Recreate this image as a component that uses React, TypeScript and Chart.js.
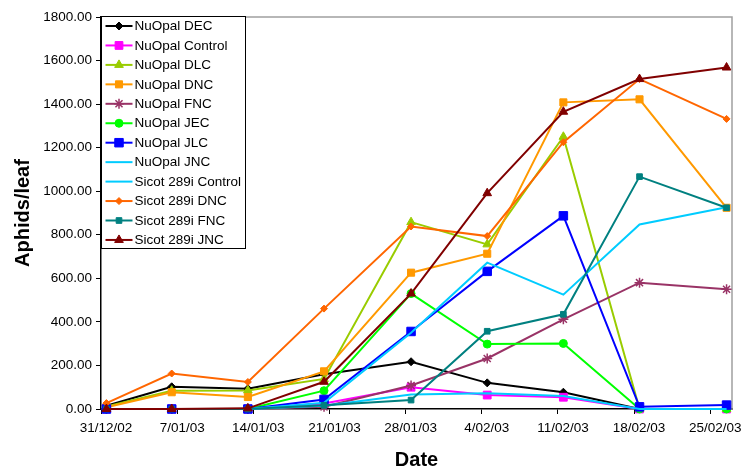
import React, { useEffect, useRef } from 'react';
import { Chart, registerables } from 'chart.js';

Chart.register(...registerables);

// Sampling dates (d/mm/yy) and weekly axis tick labels
const sampleDates = ['31/12/02', '6/01/03', '13/01/03', '20/01/03', '28/01/03', '4/02/03', '11/02/03', '18/02/03', '26/02/03'];
const tickLabels = ['31/12/02', '7/01/03', '14/01/03', '21/01/03', '28/01/03', '4/02/03', '11/02/03', '18/02/03', '25/02/03'];
const yTicks = [0, 200, 400, 600, 800, 1000, 1200, 1400, 1600, 1800];

// Aphids per leaf for each treatment, one value per sampling date
const nuOpalDEC = [15, 102, 93, 160, 217, 120, 77, 0, 0];
const nuOpalControl = [0, 0, 0, 25, 100, 64, 54, 0, 0];
const nuOpalDLC = [12, 84, 85, 138, 858, 756, 1250, 0, 0];
const nuOpalDNC = [8, 77, 55, 173, 626, 713, 1408, 1422, 924];
const nuOpalFNC = [0, 0, 0, 10, 108, 232, 412, 580, 550];
const nuOpalJEC = [0, 0, 0, 84, 530, 298, 301, 0, 0];
const nuOpalJLC = [0, 0, 0, 44, 356, 632, 887, 10, 18];
const nuOpalJNC = [0, 0, 0, 29, 350, 672, 525, 847, 926];
const sicotControl = [0, 0, 0, 15, 67, 72, 60, 0, 0];
const sicotDNC = [27, 163, 124, 461, 838, 794, 1225, 1515, 1332];
const sicotFNC = [0, 0, 0, 17, 41, 357, 435, 1067, 924];
const sicotJNC = [0, 0, 3, 125, 530, 991, 1365, 1515, 1568];

const FONT = "'Liberation Sans', Arial, Helvetica, sans-serif";
const AXIS_DAYS = 58;

function dayNumber(label: string): number {
  const [d, m, y] = label.split('/').map(Number);
  return Date.UTC(2000 + y, m - 1, d) / 86400000;
}
const origin = dayNumber(tickLabels[0]);
// ticks sit on day boundaries, samples in the middle of their day
const tickDays = tickLabels.map((t) => dayNumber(t) - origin);
const sampleDays = sampleDates.map((t) => dayNumber(t) - origin + 0.5);

type Marker = 'circle' | 'rect' | 'rectRot' | 'triangle' | 'star' | false;
interface Series {
  label: string;
  values: number[];
  color: string;
  marker: Marker;
  radius: number;
}

const series: Series[] = [
  { label: 'NuOpal DEC', values: nuOpalDEC, color: '#000000', marker: 'rectRot', radius: 4 },
  { label: 'NuOpal Control', values: nuOpalControl, color: '#FF00FF', marker: 'rect', radius: 5.5 },
  { label: 'NuOpal DLC', values: nuOpalDLC, color: '#99CC00', marker: 'triangle', radius: 5 },
  { label: 'NuOpal DNC', values: nuOpalDNC, color: '#FF9900', marker: 'rect', radius: 5 },
  { label: 'NuOpal FNC', values: nuOpalFNC, color: '#993366', marker: 'star', radius: 5 },
  { label: 'NuOpal JEC', values: nuOpalJEC, color: '#00FF00', marker: 'circle', radius: 4 },
  { label: 'NuOpal JLC', values: nuOpalJLC, color: '#0000FF', marker: 'rect', radius: 6 },
  { label: 'NuOpal JNC', values: nuOpalJNC, color: '#00CCFF', marker: false, radius: 0 },
  { label: 'Sicot 289i Control', values: sicotControl, color: '#00CCFF', marker: false, radius: 0 },
  { label: 'Sicot 289i DNC', values: sicotDNC, color: '#FF6600', marker: 'rectRot', radius: 3.5 },
  { label: 'Sicot 289i FNC', values: sicotFNC, color: '#008080', marker: 'rect', radius: 4 },
  { label: 'Sicot 289i JNC', values: sicotJNC, color: '#800000', marker: 'triangle', radius: 5 },
];

function drawMarker(ctx: CanvasRenderingContext2D, m: Marker, x: number, y: number, r: number, color: string) {
  if (!m) return;
  ctx.save();
  ctx.fillStyle = color;
  ctx.strokeStyle = color;
  ctx.lineWidth = 1;
  ctx.beginPath();
  if (m === 'circle') {
    ctx.arc(x, y, r, 0, Math.PI * 2);
  } else if (m === 'rect') {
    const s = Math.SQRT1_2 * r;
    ctx.rect(x - s, y - s, 2 * s, 2 * s);
  } else if (m === 'rectRot') {
    ctx.moveTo(x - r, y);
    ctx.lineTo(x, y - r);
    ctx.lineTo(x + r, y);
    ctx.lineTo(x, y + r);
    ctx.closePath();
  } else if (m === 'triangle') {
    let a = 0;
    ctx.moveTo(x + Math.sin(a) * r, y - Math.cos(a) * r);
    a += (2 * Math.PI) / 3;
    ctx.lineTo(x + Math.sin(a) * r, y - Math.cos(a) * r);
    a += (2 * Math.PI) / 3;
    ctx.lineTo(x + Math.sin(a) * r, y - Math.cos(a) * r);
    ctx.closePath();
  } else if (m === 'star') {
    ctx.lineWidth = 1.5;
    for (let k = 0; k < 4; k++) {
      const a = (k * Math.PI) / 4;
      ctx.moveTo(x - Math.cos(a) * r, y - Math.sin(a) * r);
      ctx.lineTo(x + Math.cos(a) * r, y + Math.sin(a) * r);
    }
    ctx.stroke();
    ctx.restore();
    return;
  }
  ctx.fill();
  ctx.stroke();
  ctx.restore();
}

// grey frame on the top and right of the plot area
const plotFrame = {
  id: 'plotFrame',
  beforeDatasetsDraw(chart: any) {
    const { ctx, chartArea: a } = chart;
    ctx.save();
    ctx.strokeStyle = '#a0a0a0';
    ctx.lineWidth = 1.5;
    ctx.beginPath();
    ctx.moveTo(a.left, a.top);
    ctx.lineTo(a.right, a.top);
    ctx.lineTo(a.right, a.bottom);
    ctx.stroke();
    ctx.restore();
  },
};

// boxed legend in the top-left corner of the plot area
const insetLegend = {
  id: 'insetLegend',
  afterDraw(chart: any) {
    const { ctx, chartArea: a } = chart;
    const x0 = Math.round(a.left) + 0.5;
    const y0 = Math.round(a.top) - 0.5;
    const w = 144;
    const h = 232;
    const rowH = 19.45;
    ctx.save();
    ctx.fillStyle = '#ffffff';
    ctx.fillRect(x0, y0, w, h);
    ctx.strokeStyle = '#000000';
    ctx.lineWidth = 1;
    ctx.strokeRect(x0, y0, w, h);
    ctx.font = `13.5px ${FONT}`;
    ctx.textBaseline = 'middle';
    ctx.textAlign = 'left';
    series.forEach((s, i) => {
      const cy = y0 + 9.5 + i * rowH;
      ctx.strokeStyle = s.color;
      ctx.lineWidth = 2;
      ctx.beginPath();
      ctx.moveTo(x0 + 4, cy);
      ctx.lineTo(x0 + 31, cy);
      ctx.stroke();
      drawMarker(ctx, s.marker, x0 + 17.5, cy, s.radius, s.color);
      ctx.fillStyle = '#000000';
      ctx.fillText(s.label, x0 + 33, cy + 0.5);
    });
    ctx.restore();
  },
};

export default function App() {
  const canvasRef = useRef<HTMLCanvasElement>(null);

  useEffect(() => {
    const canvas = canvasRef.current;
    if (!canvas) return;
    const datasets = series.map((s, i) => ({
      label: s.label,
      data: s.values.map((v, j) => ({ x: sampleDays[j], y: v })),
      borderColor: s.color,
      backgroundColor: s.color,
      borderWidth: 2,
      pointStyle: s.marker || 'circle',
      pointRadius: s.radius,
      pointBorderWidth: s.marker === 'star' ? 1.5 : 1,
      pointBackgroundColor: s.color,
      pointBorderColor: s.color,
      tension: 0,
      clip: false as const,
      order: series.length - i,
    }));

    const chart = new Chart(canvas, {
      type: 'line',
      data: { datasets },
      plugins: [plotFrame, insetLegend],
      options: {
        animation: false,
        responsive: false,
        events: [],
        layout: { padding: { top: 17, right: 9, left: 0, bottom: 0 } },
        plugins: {
          legend: { display: false },
          tooltip: { enabled: false },
        },
        scales: {
          x: {
            type: 'linear',
            min: 0,
            max: AXIS_DAYS,
            afterBuildTicks: (scale: any) => {
              scale.ticks = tickDays.map((v) => ({ value: v }));
            },
            afterFit: (scale: any) => {
              scale.height = 62;
              scale.paddingLeft = 0;
              scale.paddingRight = 0;
            },
            ticks: {
              autoSkip: false,
              maxRotation: 0,
              minRotation: 0,
              labelOffset: 5,
              padding: 6,
              color: '#000000',
              font: { family: FONT, size: 13.5 },
              callback: (_v: any, i: number) => tickLabels[i],
            },
            grid: {
              display: true,
              drawOnChartArea: false,
              drawTicks: true,
              tickLength: 5,
              color: '#000000',
              lineWidth: 1,
            },
            border: { display: true, color: '#000000', width: 1.5 },
            title: {
              display: true,
              text: 'Date',
              color: '#000000',
              font: { family: FONT, size: 20, weight: 'bold' },
              padding: { top: 0, bottom: -1 },
            },
          },
          y: {
            type: 'linear',
            min: 0,
            max: 1800,
            afterBuildTicks: (scale: any) => {
              scale.ticks = yTicks.map((v) => ({ value: v }));
            },
            afterFit: (scale: any) => {
              scale.width = 101;
            },
            ticks: {
              padding: 4,
              color: '#000000',
              font: { family: FONT, size: 13.5 },
              callback: (v: any) => Number(v).toFixed(2),
            },
            grid: {
              display: true,
              drawOnChartArea: false,
              drawTicks: true,
              tickLength: 5,
              color: '#000000',
              lineWidth: 1,
            },
            border: { display: true, color: '#000000', width: 1.5 },
            title: {
              display: true,
              text: 'Aphids/leaf',
              color: '#000000',
              font: { family: FONT, size: 20, weight: 'bold' },
              padding: { top: 11, bottom: 0 },
            },
          },
        },
      },
    });
    return () => chart.destroy();
  }, []);

  return (
    <div style={{ position: 'absolute', left: 0, top: 0, width: 741, height: 471, background: '#ffffff' }}>
      <canvas ref={canvasRef} width={741} height={471} style={{ display: 'block' }} />
    </div>
  );
}
